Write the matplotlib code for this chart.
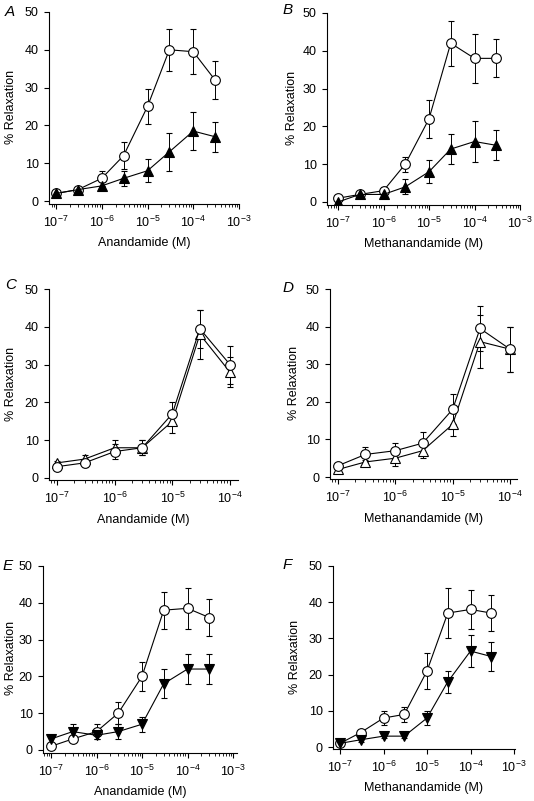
import numpy as np
import matplotlib.pyplot as plt

plt.rcParams['font.family'] = ['Liberation Sans', 'DejaVu Sans']
plt.rcParams['mathtext.fontset'] = 'custom'
plt.rcParams['mathtext.rm'] = 'Liberation Sans'

# concentrations (M)
conc8 = [1e-7, 3e-7, 1e-6, 3e-6, 1e-5, 3e-5, 1e-4, 3e-4]
conc7 = [1e-7, 3e-7, 1e-6, 3e-6, 1e-5, 3e-5, 1e-4]

# panel A - anandamide
a_open = [2, 3, 6, 12, 25, 40, 39.5, 32]
a_open_err = [0.5, 0.5, 2, 3.5, 4.5, 5.5, 6, 5]
a_fill = [2, 3, 4, 6, 8, 13, 18.5, 17]
a_fill_err = [0.5, 0.8, 1, 2, 3, 5, 5, 4]

# panel B - methanandamide
b_open = [1, 2, 3, 10, 22, 42, 38, 38]
b_open_err = [0.5, 0.5, 1, 2, 5, 6, 6.5, 5]
b_fill = [0, 2, 2, 4, 8, 14, 16, 15]
b_fill_err = [0.3, 0.5, 1, 2, 3, 4, 5.5, 4]

# panel C - anandamide
c_circ = [3, 4, 7, 8, 17, 39.5, 30]
c_circ_err = [0.8, 1, 2, 2, 3, 5, 5]
c_tri = [4, 5, 8, 8, 15, 38, 28]
c_tri_err = [0.5, 1, 2, 2, 3, 6.5, 4]

# panel D - methanandamide
d_circ = [3, 6, 7, 9, 18, 39.5, 34]
d_circ_err = [0.5, 2, 2, 3, 4, 6, 6]
d_tri = [2, 4, 5, 7, 14, 36, 34]
d_tri_err = [0.5, 0.5, 2, 2, 3, 7, 6]

# panel E - anandamide
e_open = [1, 3, 5, 10, 20, 38, 38.5, 36]
e_open_err = [0.5, 0.5, 2, 3, 4, 5, 5.5, 5]
e_fill = [3, 5, 4, 5, 7, 18, 22, 22]
e_fill_err = [1, 2, 1, 2, 2, 4, 4, 4]

# panel F - methanandamide
f_open = [1, 4, 8, 9, 21, 37, 38, 37]
f_open_err = [0.5, 0.5, 2, 2, 5, 7, 5.5, 5]
f_fill = [1, 2, 3, 3, 8, 18, 26.5, 25]
f_fill_err = [0.5, 0.5, 0.5, 0.5, 2, 3, 4.5, 4]

W, H = 534, 801
FS = 9
fig = plt.figure(figsize=(W / 100, H / 100), dpi=100)


def make_ax(spx, p7, plast, elast, pright, y50, y0, spy, ylab_x):
    # pixel layout -> axes box and limits
    dec = (plast - p7) / (elast + 7)
    xlo = -7 - (p7 - spx) / dec
    xhi = elast + (pright - plast) / dec
    ppu = (y0 - y50) / 50
    ybot = -(spy - y0) / ppu
    ax = fig.add_axes([spx / W, 1 - spy / H, (pright - spx) / W, (spy - y50) / H])
    ax.set_xscale('log')
    ax.set_xlim(10 ** xlo, 10 ** xhi)
    ax.set_ylim(ybot, 50)
    ax.set_yticks([0, 10, 20, 30, 40, 50])
    ax.set_xticks([10.0 ** e for e in range(-7, elast + 1)])
    ax.spines['top'].set_visible(False)
    ax.spines['right'].set_visible(False)
    for s in ['left', 'bottom']:
        ax.spines[s].set_linewidth(0.8)
    ax.tick_params(which='major', length=3.5, width=0.8, labelsize=FS, pad=4)
    ax.tick_params(which='minor', length=2, width=0.6)
    ax.set_ylabel('% Relaxation', fontsize=FS, va='center')
    ax.yaxis.set_label_coords(ylab_x / W, 1 - ((y50 + y0) / 2) / H,
                              transform=fig.transFigure)
    return ax


def series(ax, x, y, err, marker, face, ms=7):
    ax.errorbar(x, y, yerr=err, fmt='-', color='black', lw=0.8,
                elinewidth=0.7, capsize=2, capthick=0.7,
                marker=marker, mfc=face, mec='black', mew=0.8, ms=ms)


# A
axA = make_ax(49, 56, 239, -3, 239, 12, 201, 204, 11)
series(axA, conc8, a_open, a_open_err, 'o', 'white')
series(axA, conc8, a_fill, a_fill_err, '^', 'black', 6.5)
axA.set_xlabel('Anandamide (M)', fontsize=FS, labelpad=5)

# B
axB = make_ax(327, 338, 520, -3, 520, 13, 202, 205, 292)
series(axB, conc8, b_open, b_open_err, 'o', 'white')
series(axB, conc8, b_fill, b_fill_err, '^', 'black', 6.5)
axB.set_xlabel('Methanandamide (M)', fontsize=FS, labelpad=5)

# C
axC = make_ax(49, 57, 230, -4, 238, 289, 478, 480, 11)
series(axC, conc7, c_tri, c_tri_err, '^', 'white', 6.5)
series(axC, conc7, c_circ, c_circ_err, 'o', 'white')
axC.set_xlabel('Anandamide (M)', fontsize=FS, labelpad=6)

# D
axD = make_ax(330, 338, 510, -4, 517, 289, 477, 479, 294)
series(axD, conc7, d_tri, d_tri_err, '^', 'white', 6.5)
series(axD, conc7, d_circ, d_circ_err, 'o', 'white')
axD.set_xlabel('Methanandamide (M)', fontsize=FS, labelpad=6)

# E
axE = make_ax(43, 51, 233, -3, 237, 566, 750, 753, 11)
series(axE, conc8, e_open, e_open_err, 'o', 'white')
series(axE, conc8, e_fill, e_fill_err, 'v', 'black', 6.5)
axE.set_xlabel('Anandamide (M)', fontsize=FS, labelpad=5)

# F
axF = make_ax(333, 340, 514, -3, 515, 566, 747, 749, 295)
series(axF, conc8, f_open, f_open_err, 'o', 'white')
series(axF, conc8, f_fill, f_fill_err, 'v', 'black', 6.5)
axF.set_xlabel('Methanandamide (M)', fontsize=FS, labelpad=5)

# panel letters
letters = [('A', 10, 12), ('B', 288, 10), ('C', 11, 285), ('D', 288, 288),
           ('E', 8, 566), ('F', 287, 565)]
for t, px, py in letters:
    fig.text(px / W, 1 - py / H, t, fontsize=11, style='italic',
             ha='center', va='center')

fig.savefig('out.png', dpi=100)
